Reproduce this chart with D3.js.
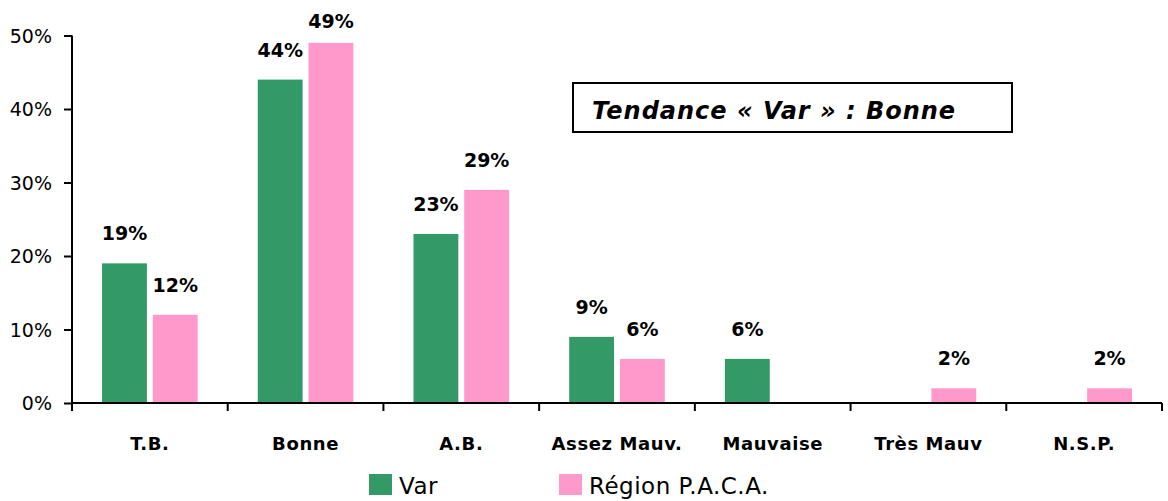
<!DOCTYPE html>
<html>
<head>
<meta charset="utf-8">
<script src="https://cdn.jsdelivr.net/npm/d3@7"></script>
<style>
  body { margin: 0; background: #fff; }
  svg { display: block; font-family: "Comic Sans MS", "DejaVu Sans", sans-serif; }
</style>
</head>
<body>
<svg id="chart" width="1168" height="501"></svg>
<script>
// data
var categories = ['T.B.', 'Bonne', 'A.B.', 'Assez Mauv.', 'Mauvaise', 'Très Mauv', 'N.S.P.'];
var varValues = [19, 44, 23, 9, 6, 0, 0];
var pacaValues = [12, 49, 29, 6, 0, 2, 2];
var seriesNames = ['Var', 'Région P.A.C.A.'];
var seriesColors = ['#339966', '#ff99cc'];
var yTicks = [0, 10, 20, 30, 40, 50];
var noteText = 'Tendance « Var » : Bonne';

var svg = d3.select('#chart');
var FONT = '"Comic Sans MS", "DejaVu Sans", sans-serif';

var x0 = 72, xEnd = 1162;
var yBottom = 403, yTop = 35.5;

var x = d3.scaleBand().domain(categories).range([x0, xEnd]);
var y = d3.scaleLinear().domain([0, 50]).range([yBottom, yTop]);

var bw = x.bandwidth();
var barW = bw * 0.288, gap = bw * 0.038;
var off = (bw - (barW * 2 + gap)) / 2;

var rows = [];
categories.forEach(function(c, i) {
	rows.push({ cat: c, s: 0, v: varValues[i] });
	rows.push({ cat: c, s: 1, v: pacaValues[i] });
});
var shown = rows.filter(function(d) { return d.v > 0; });

function barX(d) { return x(d.cat) + off + d.s * (barW + gap); }

var g = svg.append('g');

// bars
g.selectAll('rect.bar')
	.data(shown)
	.enter()
	.append('rect')
	.attr('class', 'bar')
	.attr('x', barX)
	.attr('y', function(d) { return y(d.v); })
	.attr('width', barW)
	.attr('height', function(d) { return yBottom - y(d.v); })
	.attr('fill', function(d) { return seriesColors[d.s]; });

// value labels
g.selectAll('text.val')
	.data(shown)
	.enter()
	.append('text')
	.attr('class', 'val')
	.attr('x', function(d) { return barX(d) + barW / 2; })
	.attr('y', function(d) { return Math.max(y(d.v) - 23, 28); })
	.attr('text-anchor', 'middle')
	.attr('font-size', 19)
	.attr('font-weight', 'bold')
	.text(function(d) { return d.v + '%'; });

// y axis
var yAxis = g.append('g')
	.attr('transform', 'translate(' + x0 + ',0)')
	.call(d3.axisLeft(y).tickValues(yTicks).tickSize(8).tickPadding(12).tickFormat(function(d) { return d + '%'; }));
yAxis.select('.domain').attr('stroke-width', 2).attr('d', 'M0,' + yTop + 'V' + yBottom);
yAxis.selectAll('.tick line').attr('stroke-width', 2);
yAxis.selectAll('.tick text').attr('font-size', 19).attr('font-family', FONT).attr('fill', '#000').attr('dy', '0.35em');

// x axis
var xAxis = g.append('g')
	.attr('transform', 'translate(0,' + yBottom + ')')
	.call(d3.axisBottom(x).tickSize(0).tickPadding(34));
xAxis.select('.domain').attr('stroke-width', 2).attr('d', 'M' + x0 + ',0H' + xEnd);
xAxis.selectAll('.tick text').attr('font-size', 18).attr('font-weight', 'bold')
	.attr('letter-spacing', 0.6).attr('font-family', FONT).attr('fill', '#000');
var bounds = categories.map(function(c) { return x(c); }).concat([xEnd]);
xAxis.selectAll('line.sep')
	.data(bounds)
	.enter()
	.append('line')
	.attr('class', 'sep')
	.attr('x1', function(d) { return d; })
	.attr('x2', function(d) { return d; })
	.attr('y1', 0)
	.attr('y2', 8)
	.attr('stroke', '#000')
	.attr('stroke-width', 2);

// note box
var note = svg.append('g');
note.append('rect')
	.attr('x', 573).attr('y', 83).attr('width', 439).attr('height', 49)
	.attr('fill', '#fff').attr('stroke', '#000').attr('stroke-width', 2);
note.append('text')
	.attr('x', 592).attr('y', 119)
	.attr('font-size', 24).attr('font-weight', 'bold').attr('font-style', 'italic')
	.attr('letter-spacing', 1)
	.text(noteText);

// legend
var legendX = [369, 559];
var lg = svg.selectAll('g.leg')
	.data(seriesNames)
	.enter()
	.append('g')
	.attr('class', 'leg')
	.attr('transform', function(d, i) { return 'translate(' + legendX[i] + ',474)'; });
lg.append('rect').attr('width', 23).attr('height', 21).attr('fill', function(d, i) { return seriesColors[i]; });
lg.append('text').attr('x', 30).attr('y', 20).attr('font-size', 23).attr('letter-spacing', 0.5).text(function(d) { return d; });
</script>
</body>
</html>
